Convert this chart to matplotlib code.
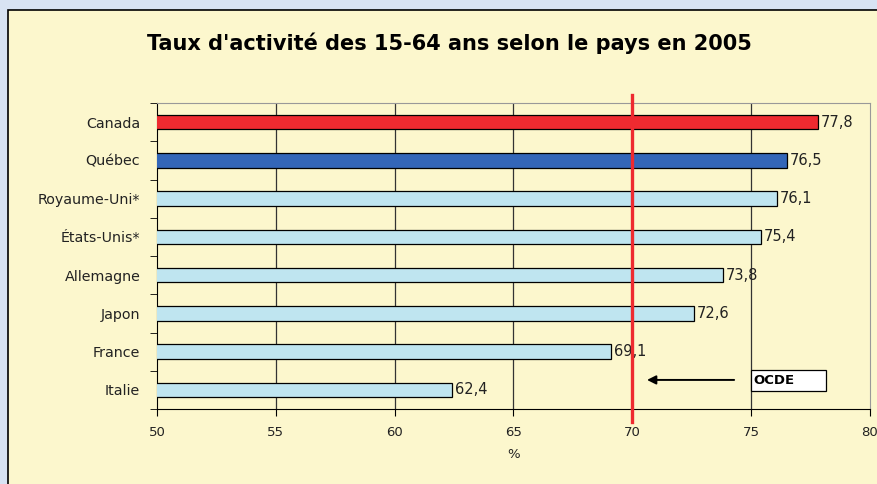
import numpy as np
import matplotlib.pyplot as plt
from matplotlib.patches import Rectangle

pays = ['Canada', 'Québec', 'Royaume-Uni*', 'États-Unis*', 'Allemagne', 'Japon', 'France', 'Italie']
taux = [77.8, 76.5, 76.1, 75.4, 73.8, 72.6, 69.1, 62.4]
couleurs = ['#ee2a30', '#3366b8', '#bfe5f0', '#bfe5f0', '#bfe5f0', '#bfe5f0', '#bfe5f0', '#bfe5f0']
ocde = 70
ticks_x = [50, 55, 60, 65, 70, 75, 80]

plt.rcParams['font.family'] = ['DejaVu Sans']

fig = plt.figure(figsize=(8.78, 4.84), dpi=100)
fig.patch.set_facecolor('#d8e3f3')

# beige panel
panel = Rectangle((8 / 878, -0.1), 1.1, 1 - 10 / 484 + 0.1, transform=fig.transFigure,
                  facecolor='#fcf7cd', edgecolor='black', linewidth=1.2, zorder=-5)
fig.patches.append(panel)

fig.text(0.512, 1 - 43 / 484, "Taux d'activité des 15-64 ans selon le pays en 2005",
         ha='center', va='center', fontsize=15, fontweight='bold')

ax = fig.add_axes([157 / 878, 1 - 409 / 484, (870 - 157) / 878, (409 - 103) / 484])
ax.set_zorder(2)
ax.set_facecolor('#fcf7cd')

y = np.arange(len(pays))
ax.barh(y, taux, height=0.38, left=0, color=couleurs, edgecolor='black', linewidth=0.9, zorder=3)
ax.set_xlim(50, 80)
ax.set_ylim(len(pays) - 0.5, -0.5)

for yi, v in zip(y, taux):
    ax.text(v + 0.12, yi, f'{v:.1f}'.replace('.', ','), va='center', ha='left', fontsize=10.5,
            color='#222222', zorder=4)

ax.set_xticks(ticks_x)
ax.set_xticklabels([str(t) for t in ticks_x], fontsize=9.5, color='#222222')
ax.set_yticks(y)
ax.set_yticklabels(pays, fontsize=10.3, color='#222222')
ax.tick_params(axis='y', length=0, pad=12)
ax.set_yticks(np.arange(-0.5, len(pays)), minor=True)
ax.tick_params(axis='y', which='minor', length=5, direction='out')
ax.tick_params(axis='x', length=5, direction='out', pad=7)
ax.set_xlabel('%', fontsize=9.5, labelpad=7, color='#222222')

for t in ticks_x[1:-1]:
    ax.axvline(t, color='#333333', linewidth=0.9, zorder=1)

for s in ['top', 'right']:
    ax.spines[s].set_color('#999999')
for s in ['left', 'bottom']:
    ax.spines[s].set_color('black')

# ligne OCDE
ax.plot([ocde, ocde], [-0.71, 7.84], color='#ee2a30', linewidth=2.4, clip_on=False, zorder=5)

ax.annotate('', xy=(70.5, 6.74), xytext=(74.4, 6.74),
            arrowprops=dict(arrowstyle='-|>', color='black', lw=1.4, mutation_scale=13), zorder=6)
ax.add_patch(Rectangle((75.0, 6.48), 3.15, 0.55, facecolor='white', edgecolor='black',
                       linewidth=0.9, zorder=6))
ax.text(75.08, 6.76, 'OCDE', fontsize=9.5, fontweight='bold', va='center', ha='left', zorder=7)

fig.savefig('out.png', dpi=100, facecolor=fig.get_facecolor())
